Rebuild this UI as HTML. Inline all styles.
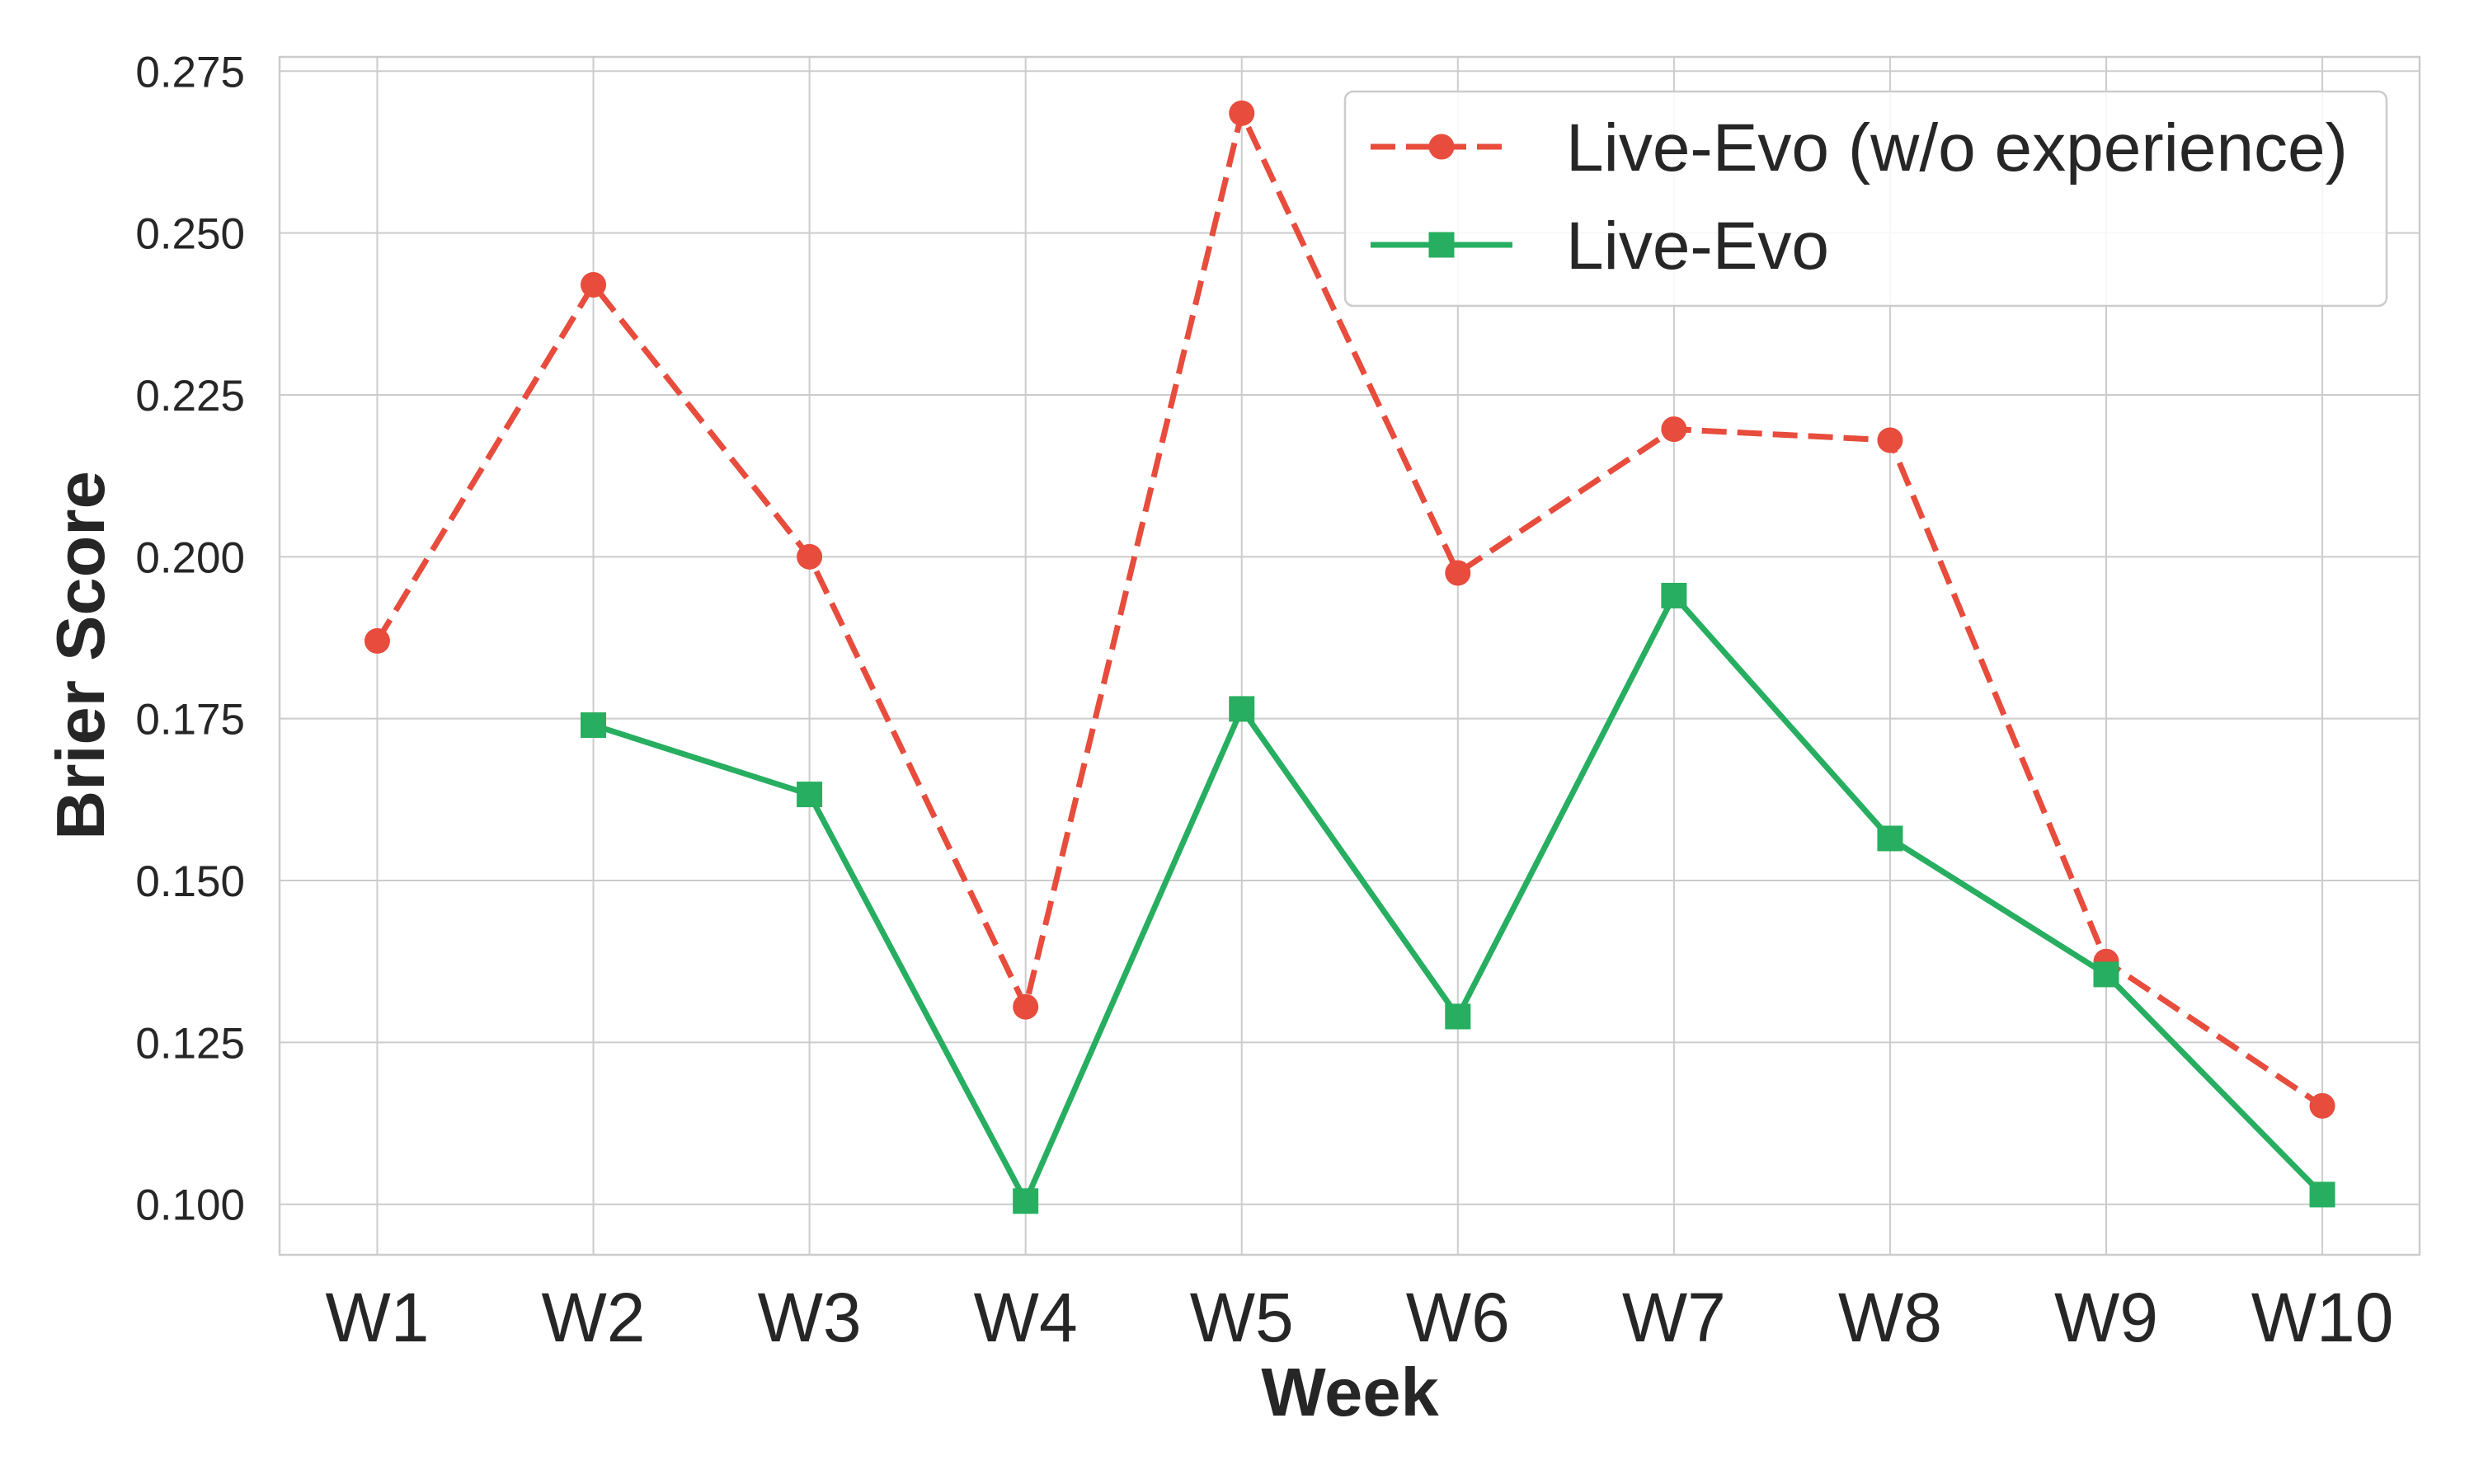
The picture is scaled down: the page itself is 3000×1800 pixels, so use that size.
<!DOCTYPE html>
<html><head><meta charset="utf-8"><style>
html,body{margin:0;padding:0;background:#fff;}
svg{display:block;font-family:"Liberation Sans",Arial,sans-serif;}
</style></head><body>
<svg id="chart" width="3000" height="1800" viewBox="0 0 3000 1800" xmlns="http://www.w3.org/2000/svg"></svg>
<script>
const categories = ["W1","W2","W3","W4","W5","W6","W7","W8","W9","W10"];
const seriesNoExp = [0.187,0.242,0.200,0.1305,0.2685,0.1975,0.2197,0.218,0.1375,0.1152];
const seriesLiveEvo = [null,0.174,0.1633,0.1005,0.1765,0.129,0.194,0.1565,0.1355,0.1015];
const yTicks = [0.100,0.125,0.150,0.175,0.200,0.225,0.250,0.275];
const yTickLabels = ["0.100","0.125","0.150","0.175","0.200","0.225","0.250","0.275"];

const NS="http://www.w3.org/2000/svg";
const svg=document.getElementById('chart');
const L=339,R=2934,T=69,B=1522;
const yMin=0.0922,yMax=0.2772;
const xPadL=0.452,xPadR=0.45;
function xs(i){return L+(i+xPadL)/(categories.length-1+xPadL+xPadR)*(R-L);}
function ys(v){return B-(v-yMin)/(yMax-yMin)*(B-T);}
function el(tag,attrs,parent){const e=document.createElementNS(NS,tag);for(const k in attrs)e.setAttribute(k,attrs[k]);(parent||svg).appendChild(e);return e;}

const grid=el('g',{});


yTicks.forEach((v,i)=>{
  el('line',{x1:L,x2:R,y1:ys(v),y2:ys(v),stroke:'#cccccc','stroke-width':2},grid);
  const t=el('text',{x:297,y:ys(v)+19,'text-anchor':'end','font-size':53,fill:'#262626'});
  t.textContent=yTickLabels[i];
  
  
});
categories.forEach((c,i)=>{
  el('line',{x1:xs(i),x2:xs(i),y1:T,y2:B,stroke:'#cccccc','stroke-width':2},grid);
  const t=el('text',{x:xs(i),y:1627,'text-anchor':'middle','font-size':84,fill:'#262626'});
  t.textContent=c;
  
  
});
const frame=el('rect',{x:L,y:T,width:R-L,height:B-T,fill:'none',stroke:'#cccccc','stroke-width':2.5});



function drawSeries(data,color,dashed,marker,name){
  const g=el('g',{});
  
  
  const pts=[];data.forEach((v,i)=>{if(v!==null)pts.push([xs(i),ys(v)]);});
  const p=el('polyline',{points:pts.map(p=>p.join(',')).join(' '),fill:'none',stroke:color,'stroke-width':7,'stroke-linejoin':'round'},g);
  if(dashed)p.setAttribute('stroke-dasharray','30,13');
  pts.forEach(([x,y])=>{
    let m;
    if(marker==='circle')m=el('circle',{cx:x,cy:y,r:15.5,fill:color},g);
    else m=el('rect',{x:x-15.5,y:y-15.5,width:31,height:31,fill:color},g);
    
    
  });
}
drawSeries(seriesNoExp,'#e74c3c',true,'circle','series-live-evo-no-experience');
drawSeries(seriesLiveEvo,'#27ae60',false,'square','series-live-evo');

const yt=el('text',{x:0,y:0,transform:'translate(126,795) rotate(-90)','text-anchor':'middle','font-size':83,'font-weight':'bold',fill:'#262626'});
yt.textContent='Brier Score';


const xt=el('text',{x:1637,y:1717,'text-anchor':'middle','font-size':83,'font-weight':'bold',fill:'#262626'});
xt.textContent='Week';



const lg=el('g',{});


el('rect',{x:1631,y:111,width:1263,height:260,rx:10,fill:'#fff','fill-opacity':0.85,stroke:'#cccccc','stroke-width':2.5},lg);
el('line',{x1:1662,x2:1834,y1:178,y2:178,stroke:'#e74c3c','stroke-width':7,'stroke-dasharray':'30,13'},lg);
el('circle',{cx:1748,cy:178,r:15.5,fill:'#e74c3c'},lg);
el('line',{x1:1662,x2:1834,y1:297,y2:297,stroke:'#27ae60','stroke-width':7},lg);
el('rect',{x:1732.5,y:281.5,width:31,height:31,fill:'#27ae60'},lg);
const l1=el('text',{x:1899,y:207,'font-size':82,fill:'#262626'},lg);
l1.textContent='Live-Evo (w/o experience)';


const l2=el('text',{x:1899,y:326,'font-size':82,fill:'#262626'},lg);
l2.textContent='Live-Evo';


</script>
</body></html>
